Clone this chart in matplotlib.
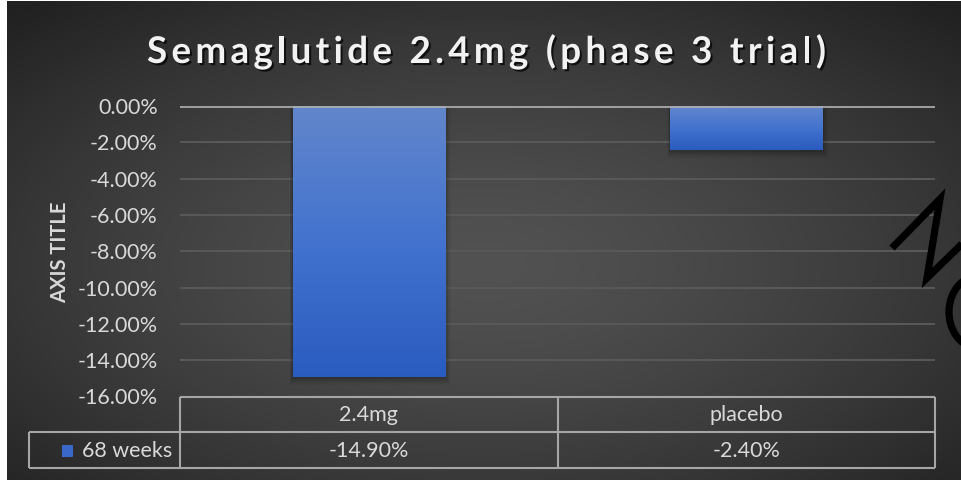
import numpy as np
import matplotlib
matplotlib.use("Agg")
import matplotlib.pyplot as plt
from matplotlib.patches import Rectangle, Arc
from matplotlib.lines import Line2D
from matplotlib import patheffects as pe
from matplotlib.colors import LinearSegmentedColormap
from matplotlib.font_manager import FontProperties, findfont
from matplotlib.ft2font import FT2Font

# ---- data ----
categories = ["2.4mg", "placebo"]
series_name = "68 weeks"
values = [-14.90, -2.40]
yticks = [0, -2, -4, -6, -8, -10, -12, -14, -16]
title = "Semaglutide 2.4mg (phase 3 trial)"
axis_title = "AXIS TITLE"

W, H = 961, 483
FONT = "Lato"
TXT = "#d9d9d9"
LINE = "#a6a6a6"

fig = plt.figure(figsize=(W / 100, H / 100), dpi=100, facecolor="white")

def fx(px):
    return px / W

def fy(py):
    return 1 - py / H

# ---- dark radial background panel ----
bx0, bx1, by0, by1 = 7, 961, 1, 480
bg = fig.add_axes([fx(bx0), fy(by1), fx(bx1 - bx0), (by1 - by0) / H])
bg.set_axis_off()
yy, xx = np.mgrid[0:by1 - by0, 0:bx1 - bx0]
cx, cy = (bx1 - bx0) * 0.50, (by1 - by0) * 0.55
d = np.sqrt(((xx - cx) / ((bx1 - bx0) / 2)) ** 2 + ((yy - cy) / ((by1 - by0) / 2)) ** 2)
t = np.clip(d / 1.45, 0, 1) ** 1.4
c_in, c_out = 0x52, 0x21
g = (c_in + (c_out - c_in) * t) / 255.0
bg.imshow(np.dstack([g, g, g]), aspect="auto", interpolation="bilinear")

# ---- plot area ----
px0, px1, py0, py1 = 180, 935, 106, 396.5
ax = fig.add_axes([fx(px0), fy(py1), fx(px1 - px0), (py1 - py0) / H])
ax.patch.set_alpha(0)
ax.set_ylim(-16, 0)
ax.set_xlim(-0.5, len(categories) - 0.5)
for s in ax.spines.values():
    s.set_visible(False)
ax.set_xticks([])
ax.set_yticks(yticks)
ax.set_yticklabels([f"{v:.2f}%" for v in yticks], color=TXT, fontsize=15.5, family=FONT)
ax.tick_params(axis="y", length=0, pad=16)
for v in yticks[1:-1]:
    ax.axhline(v, color="#595959", lw=1.4, zorder=1)
ax.axhline(0, color="#b0b0b0", lw=2.2, alpha=0.85, zorder=5)

bar_w = 0.403
grad = LinearSegmentedColormap.from_list("bar", ["#2a5bbf", "#4373cf", "#6286cb"])
x = np.arange(len(categories))
bars = ax.bar(x, values, width=bar_w, color="none", zorder=3)
for b in bars:
    x0, w = b.get_x(), b.get_width()
    top, bot = 0, b.get_height()
    # soft drop shadow
    for k, a in enumerate([0.10, 0.08, 0.06, 0.04]):
        off = 0.004 * (k + 1)
        ax.add_patch(Rectangle((x0 - off * 0.5, bot - 0.12 * (k + 1)), w + off * 1.5,
                               -bot + 0.12 * (k + 1), facecolor="black", alpha=a,
                               lw=0, zorder=2))
    img = np.linspace(1, 0, 256).reshape(-1, 1)
    im = ax.imshow(img, cmap=grad, aspect="auto", extent=(x0, x0 + w, bot, top),
                   zorder=3, interpolation="bilinear")
    im.set_clip_path(b)
ax.set_xlim(-0.5, len(categories) - 0.5)
ax.set_ylim(-16, 0)

fig.text(fx(60), fy(252), axis_title, rotation=90, ha="center", va="center",
         color=TXT, fontsize=14.5, fontweight="bold", family=FONT)

# ---- overlay in pixel coordinates for title, table and ink ----
ov = fig.add_axes([0, 0, 1, 1])
ov.set_xlim(0, W)
ov.set_ylim(H, 0)
ov.set_axis_off()
ov.patch.set_alpha(0)

# title with widened letter spacing
t_size = 26.5
t_left, t_right, t_base = 147, 826, 63
fp = FontProperties(family=FONT, weight="bold")
ft = FT2Font(findfont(fp))
ft.set_size(t_size, 100)
adv = []
for ch in title:
    glyph = ft.load_char(ord(ch))
    adv.append(glyph.linearHoriAdvance / 65536)
track = ((t_right - t_left) - sum(adv)) / (len(title) - 1)
xpos = t_left
shadow = [pe.withSimplePatchShadow(offset=(1.5, -1.5), shadow_rgbFace="black", alpha=0.7)]
for ch, a in zip(title, adv):
    if ch != " ":
        ov.text(xpos, t_base, ch, ha="left", va="baseline", color="#f2f2f2",
                fontsize=t_size, fontproperties=None, family=FONT, fontweight="bold",
                path_effects=shadow)
    xpos += a + track

# data table
col_edges = [px0, (px0 + px1) / 2, px1]
r0, r1, r2 = 396.5, 432, 468
lk = dict(color=LINE, lw=1.5, solid_capstyle="butt")
ov.add_line(Line2D([px0, px1], [r0, r0], **lk))
ov.add_line(Line2D([29, px1], [r1, r1], **lk))
ov.add_line(Line2D([29, px1], [r2, r2], **lk))
ov.add_line(Line2D([29, 29], [r1, r2], **lk))
for cxe in col_edges:
    ov.add_line(Line2D([cxe, cxe], [r0, r2], **lk))

for i, (cat, v) in enumerate(zip(categories, values)):
    cxm = (col_edges[i] + col_edges[i + 1]) / 2
    ov.text(cxm, (r0 + r1) / 2 + 1, cat, ha="center", va="center", color=TXT,
            fontsize=15.5, family=FONT)
    ov.text(cxm, (r1 + r2) / 2 + 1, f"{v:.2f}%", ha="center", va="center", color=TXT,
            fontsize=15.5, family=FONT)

ov.add_patch(Rectangle((62, 445), 10.5, 12, facecolor="#3a68c9", lw=0))
ov.text(82, (r1 + r2) / 2 + 1, series_name, ha="left", va="center", color=TXT,
        fontsize=15.5, family=FONT)

# handwritten ink stroke on the right edge
ink = dict(color="black", lw=5.2, solid_capstyle="butt", solid_joinstyle="miter")
ov.add_line(Line2D([892, 940, 927, 966], [248, 199, 278, 240], **ink))
ov.add_patch(Arc((978, 312), 58, 72, theta1=95, theta2=270, color="black", lw=5.2))

fig.savefig("out.png", dpi=100, facecolor=fig.get_facecolor())
